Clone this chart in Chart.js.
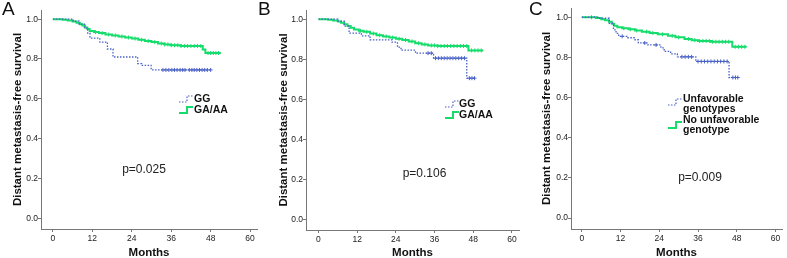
<!DOCTYPE html>
<html>
<head>
<meta charset="utf-8">
<script src="https://cdn.jsdelivr.net/npm/chart.js@4.4.0/dist/chart.umd.min.js"></script>
<style>
  html, body { margin: 0; padding: 0; background: #fff; }
  #wrap { position: relative; width: 787px; height: 258px; overflow: hidden; font-family: "Liberation Sans", Arial, sans-serif; }
  .panel { position: absolute; top: 0; height: 258px; }
  .letter { position: absolute; top: -2px; font-size: 19px; color: #111; }
</style>
</head>
<body>
<div id="wrap">
  <div class="panel" style="left:0;width:262px"><canvas id="chartA"></canvas></div>
  <div class="panel" style="left:262px;width:262px"><canvas id="chartB"></canvas></div>
  <div class="panel" style="left:524px;width:263px"><canvas id="chartC"></canvas></div>
  <div class="letter" style="left:2px">A</div>
  <div class="letter" style="left:258px">B</div>
  <div class="letter" style="left:529px">C</div>
</div>
<script>
// ---- data (months, survival) ----
const xTicks = [0, 12, 24, 36, 48, 60];
const yTicks = [0, 0.2, 0.4, 0.6, 0.8, 1.0];

// Panel A
const ggA_t = [0, 6.2, 8.0, 9.6, 10.6, 11.3, 14.3, 16.6, 18.3, 25.8, 27.0, 29.9, 48.2];
const ggA_s = [1, 0.99, 0.975, 0.955, 0.93, 0.905, 0.885, 0.85, 0.81, 0.777, 0.768, 0.745, 0.745];
const ggA_cens = [33.5, 34.4, 35.3, 36.2, 37.0, 37.8, 38.7, 39.5, 40.2, 41.5, 42.3, 43.0, 43.8, 44.6, 45.4, 46.2, 47.0, 48.0];
const gaA_t = [0, 3.0, 4.5, 6.0, 7.2, 8.2, 9.0, 9.8, 10.5, 11.2, 12.5, 14.0, 16.0, 18.0, 20.0, 22.0, 24.0, 26.0, 28.0, 30.0, 32.0, 34.0, 36.0, 39.0, 45.6, 46.4, 51.1];
const gaA_s = [1, 0.997, 0.993, 0.988, 0.982, 0.975, 0.968, 0.958, 0.95, 0.94, 0.935, 0.93, 0.923, 0.918, 0.913, 0.908, 0.903, 0.896, 0.89, 0.885, 0.878, 0.873, 0.869, 0.865, 0.848, 0.83, 0.83];
const gaA_cens = [13, 15, 17, 19, 21, 23, 25, 27, 29, 31, 33, 34, 35, 36, 37, 38, 39, 40, 41, 42, 43, 44, 45, 47.2, 48, 48.8, 49.6, 50.4];

// Panel B
const ggB_t = [0, 6.0, 8.0, 9.5, 13.3, 16.0, 22.8, 24.5, 25.6, 30.1, 35.7, 46.0, 48.5];
const ggB_s = [1, 0.99, 0.965, 0.93, 0.917, 0.897, 0.885, 0.86, 0.845, 0.83, 0.805, 0.705, 0.705];
const ggB_cens = [34.0, 35.0, 36.3, 37.2, 38.1, 39.0, 39.9, 40.8, 41.7, 42.6, 43.5, 44.4, 45.3, 46.8, 47.6, 48.4];
const gaB_t = [0, 3.0, 4.5, 6.0, 7.0, 8.0, 9.0, 10.0, 11.0, 12.5, 14.0, 16.0, 18.0, 20.0, 22.0, 24.0, 26.0, 28.0, 30.0, 32.0, 34.0, 37.0, 46.5, 51.1];
const gaB_s = [1, 0.997, 0.993, 0.988, 0.982, 0.975, 0.966, 0.957, 0.948, 0.942, 0.937, 0.928, 0.92, 0.914, 0.908, 0.902, 0.896, 0.889, 0.88, 0.874, 0.869, 0.866, 0.844, 0.844];
const gaB_cens = [13, 15, 17, 19, 21, 23, 25, 27, 29, 31, 33, 35, 36, 37, 38, 39, 40, 41, 42, 43, 44, 45, 46, 47.5, 48.5, 49.5, 50.5];

// Panel C
const unfC_t = [0, 5.0, 8.5, 9.8, 10.6, 11.4, 14.0, 16.5, 17.5, 20.5, 24.5, 25.5, 27.5, 29.6, 35.3, 45.6, 48.4];
const unfC_s = [1, 0.995, 0.97, 0.937, 0.92, 0.905, 0.898, 0.888, 0.872, 0.862, 0.848, 0.83, 0.818, 0.803, 0.78, 0.70, 0.70];
const unfC_cens = [12.5, 19.5, 23, 31, 32, 33, 34, 36, 37, 38, 39, 40, 41, 42, 43, 44, 45, 46.8, 47.6, 48.3];
const favC_t = [0, 4.4, 6.0, 7.2, 8.4, 9.3, 10.0, 11.0, 12.5, 14.5, 16.5, 18.6, 21.0, 23.5, 26.7, 29.0, 31.8, 34.0, 36.0, 40.0, 46.6, 51.0];
const favC_s = [1, 0.996, 0.99, 0.985, 0.978, 0.968, 0.958, 0.95, 0.945, 0.94, 0.934, 0.928, 0.922, 0.915, 0.908, 0.9, 0.892, 0.886, 0.882, 0.878, 0.853, 0.853];
const favC_cens = [3, 13, 15, 17, 20, 22, 25, 28, 30, 33, 35, 36.5, 37.5, 38.5, 39.5, 40.5, 41.5, 42.5, 43.5, 44.5, 45.5, 47.5, 48.5, 49.5, 50.5];

const labelsAB = [['GG'], ['GA/AA']];
const labelsC = [['Unfavorable', 'genotypes'], ['No unfavorable', 'genotype']];
const pValues = ['p=0.025', 'p=0.106', 'p=0.009'];

const BLUE = '#4a62c6';
const GREEN = '#16dc6c';
const FONT = '"Liberation Sans", Arial, sans-serif';

function toPoints(t, s) {
  return t.map((x, i) => ({ x: x, y: s[i] }));
}

// survival value at a censoring time, from the step curve
function censPoints(cens, t, s) {
  return cens.map(c => {
    let v = s[0];
    for (let i = 0; i < t.length; i++) if (t[i] <= c) v = s[i];
    return { x: c, y: v };
  });
}

function curveSets(t, s, cens, color, dotted) {
  return [{
    data: toPoints(t, s),
    showLine: true,
    stepped: 'before',
    borderColor: color,
    borderWidth: dotted ? 1.3 : 2,
    borderDash: dotted ? [1.5, 1.5] : [],
    pointRadius: 0
  }, {
    data: censPoints(cens, t, s),
    showLine: false,
    pointStyle: 'cross',
    pointRadius: 2,
    borderColor: color,
    borderWidth: 1
  }];
}

// draws legend glyphs/labels and the p value
const notes = {
  id: 'notes',
  afterDraw(chart, args, o) {
    const ctx = chart.ctx;
    ctx.save();
    // legend
    o.labels.forEach((lines, i) => {
      const gy = o.glyphY[i];
      const gx = o.glyphX;
      ctx.beginPath();
      ctx.moveTo(gx, gy + 3);
      ctx.lineTo(gx + 8, gy + 3);
      ctx.lineTo(gx + 8, gy - 3);
      ctx.lineTo(gx + 14, gy - 3);
      ctx.strokeStyle = i === 0 ? BLUE : GREEN;
      ctx.lineWidth = i === 0 ? 1.2 : 2;
      ctx.setLineDash(i === 0 ? [1.5, 1.5] : []);
      ctx.stroke();
      ctx.setLineDash([]);
      ctx.fillStyle = '#111';
      ctx.font = 'bold 10.5px ' + FONT;
      ctx.textBaseline = 'middle';
      ctx.textAlign = 'left';
      lines.forEach((txt, j) => ctx.fillText(txt, o.textX, o.textY[i] + j * 10));
    });
    // p value
    ctx.font = '12px ' + FONT;
    ctx.textAlign = 'center';
    ctx.fillStyle = '#222';
    ctx.fillText(o.p, o.pX, o.pY);
    ctx.restore();
  }
};

function makePanel(id, sets, p) {
  return new Chart(document.getElementById(id), {
    type: 'scatter',
    data: { datasets: sets },
    options: {
      responsive: true,
      maintainAspectRatio: false,
      animation: false,
      layout: { padding: { left: 0, right: p.padRight, top: p.padTop, bottom: 0 } },
      plugins: {
        legend: { display: false },
        tooltip: { enabled: false },
        notes: p.notes
      },
      scales: {
        x: {
          type: 'linear',
          min: p.xMin,
          max: p.xMax,
          afterBuildTicks: s => { s.ticks = xTicks.map(v => ({ value: v })); },
          afterFit: s => { s.height = p.xHeight; },
          grid: { display: true, drawOnChartArea: false, drawTicks: true, tickLength: 3, color: '#777' },
          border: { display: true, color: '#777', width: 1 },
          ticks: { color: '#222', font: { family: FONT, size: 8.5 }, padding: 1.5, maxRotation: 0, callback: v => String(v) },
          title: { display: true, text: 'Months', color: '#111', font: { family: FONT, size: 11.5, weight: 'bold', lineHeight: 0.85 }, padding: 0 }
        },
        y: {
          type: 'linear',
          min: -0.054,
          max: 1.046,
          afterBuildTicks: s => { s.ticks = yTicks.map(v => ({ value: v })); },
          afterFit: s => { s.width = p.yWidth; },
          grid: { display: true, drawOnChartArea: false, drawTicks: true, tickLength: 3, color: '#777' },
          border: { display: true, color: '#777', width: 1 },
          ticks: { color: '#222', font: { family: FONT, size: 8.5 }, padding: 0, callback: v => v.toFixed(1) },
          title: { display: true, text: 'Distant metastasis-free survival', color: '#111', font: { family: FONT, size: 11.5, weight: 'bold' }, padding: { top: p.yTitlePad, bottom: 0 } }
        }
      }
    },
    plugins: [notes]
  });
}

makePanel('chartA',
  curveSets(ggA_t, ggA_s, ggA_cens, BLUE, true).concat(curveSets(gaA_t, gaA_s, gaA_cens, GREEN, false)),
  { padRight: 4, padTop: 10, xHeight: 29, yWidth: 41, yTitlePad: 11, xMin: -3.6, xMax: 62.1,
    notes: { labels: labelsAB, glyphX: 179, glyphY: [99, 110], textX: 194, textY: [99, 110], p: pValues[0], pX: 144, pY: 170 } });

makePanel('chartB',
  curveSets(ggB_t, ggB_s, ggB_cens, BLUE, true).concat(curveSets(gaB_t, gaB_s, gaB_cens, GREEN, false)),
  { padRight: 0, padTop: 10, xHeight: 28, yWidth: 44, yTitlePad: 14.5, xMin: -3.87, xMax: 62.2,
    notes: { labels: labelsAB, glyphX: 183, glyphY: [104, 115], textX: 197, textY: [104, 115], p: pValues[1], pX: 162.5, pY: 174 } });

makePanel('chartC',
  curveSets(unfC_t, unfC_s, unfC_cens, BLUE, true).concat(curveSets(favC_t, favC_s, favC_cens, GREEN, false)),
  { padRight: 1, padTop: 8, xHeight: 29, yWidth: 47, yTitlePad: 16, xMin: -3.35, xMax: 62.0,
    notes: { labels: labelsC, glyphX: 144, glyphY: [102, 125], textX: 159, textY: [99, 120], p: pValues[2], pX: 176, pY: 178 } });
</script>
</body>
</html>
